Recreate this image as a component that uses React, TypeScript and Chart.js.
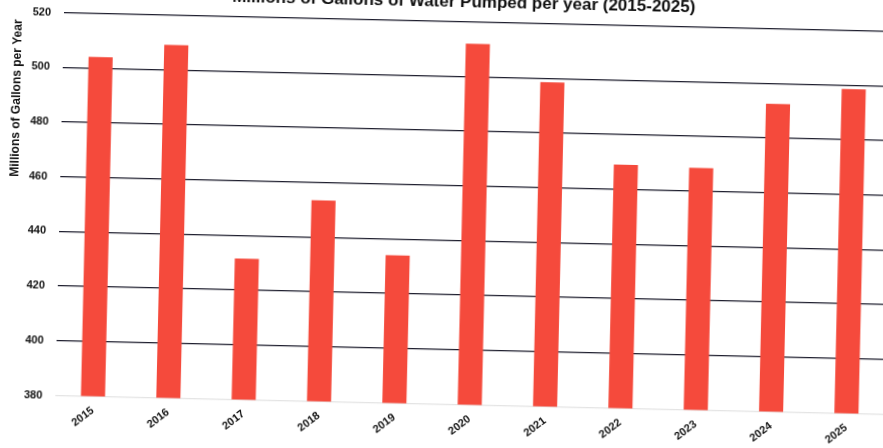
import React, { useEffect, useRef } from "react";
import { Chart, registerables } from "chart.js";

Chart.register(...registerables);

const TITLE = "Millions of Gallons of Water Pumped per year (2015-2025)";
const Y_TITLE = "Millions of Gallons per Year";
const YEARS = ["2015", "2016", "2017", "2018", "2019", "2020", "2021", "2022", "2023", "2024", "2025"];
const GALLONS = [504, 509, 431.5, 453.5, 434, 512, 498.5, 469, 468.5, 492.5, 498.5];
const Y_MIN = 380;
const Y_MAX = 520;
const Y_STEP = 20;

const BAR_COLOR = "rgb(245, 74, 60)";
const GRID_COLOR = "#1e1e2e";
const BASE_COLOR = "#e4e4e4";
const TEXT_COLOR = "#111111";
const FONT = "'Liberation Sans', Arial, sans-serif";

export default function App() {
  const ref = useRef<HTMLCanvasElement>(null);

  useEffect(() => {
    if (!ref.current) return;
    Chart.defaults.font.family = FONT;
    const yTitlePlugin = {
      id: "yTitleCustom",
      afterDraw(chart: any) {
        const { ctx, chartArea } = chart;
        ctx.save();
        ctx.translate(chartArea.left - 45, chartArea.top + 86.6);
        ctx.rotate(-Math.PI / 2);
        ctx.font = `bold 12px ${FONT}`;
        ctx.fillStyle = TEXT_COLOR;
        ctx.textAlign = "center";
        ctx.textBaseline = "middle";
        ctx.fillText(Y_TITLE, 0, 0);
        ctx.restore();
      },
    };
    const chart = new Chart(ref.current, {
      type: "bar",
      data: {
        labels: YEARS,
        datasets: [
          {
            data: GALLONS,
            backgroundColor: BAR_COLOR,
            borderWidth: 0,
            categoryPercentage: 1,
            barPercentage: 0.32,
          },
        ],
      },
      options: {
        animation: false,
        responsive: false,
        layout: { padding: { left: 0, right: 0, top: 0, bottom: 0 } },
        plugins: {
          legend: { display: false },
          tooltip: { enabled: false },
          title: {
            display: true,
            text: TITLE,
            color: TEXT_COLOR,
            font: { size: 17, weight: "bold", family: FONT },
            padding: { top: 13.5, bottom: 8.6 },
          },
        },
        scales: {
          x: {
            grid: { display: false },
            border: { display: false },
            ticks: {
              autoSkip: false,
              minRotation: 38,
              maxRotation: 38,
              padding: 0,
              color: TEXT_COLOR,
              font: { size: 11, weight: "bold", family: FONT },
            },
            afterFit: (s: any) => {
              s.height = 52.5;
            },
          },
          y: {
            min: Y_MIN,
            max: Y_MAX,
            ticks: {
              stepSize: Y_STEP,
              padding: 13,
              color: TEXT_COLOR,
              font: { size: 11, weight: "bold", family: FONT },
            },
            grid: {
              drawTicks: false,
              lineWidth: 1.3,
              color: (c: any) => (c.tick && c.tick.value === Y_MIN ? BASE_COLOR : GRID_COLOR),
            },
            border: { display: false },
            afterFit: (s: any) => {
              s.width = 64;
            },
          },
          yRight: {
            position: "right",
            display: true,
            ticks: { display: false },
            grid: { display: false, drawTicks: false },
            border: { display: false },
            afterFit: (s: any) => {
              s.width = 34;
            },
          },
        },
      },
      plugins: [yTitlePlugin],
    } as any);
    return () => chart.destroy();
  }, []);

  return (
    <div
      style={{
        position: "fixed",
        left: 0,
        top: 0,
        width: 883,
        height: 448,
        overflow: "hidden",
        background: "#ffffff",
      }}
    >
      <div
        style={{
          position: "absolute",
          left: 0,
          top: -30,
          width: 927,
          height: 478,
          transform: "rotate(1.3deg)",
          transformOrigin: "64px 42.5px",
        }}
      >
        <canvas ref={ref} width={927} height={478} style={{ display: "block", width: 927, height: 478 }} />
      </div>
    </div>
  );
}
